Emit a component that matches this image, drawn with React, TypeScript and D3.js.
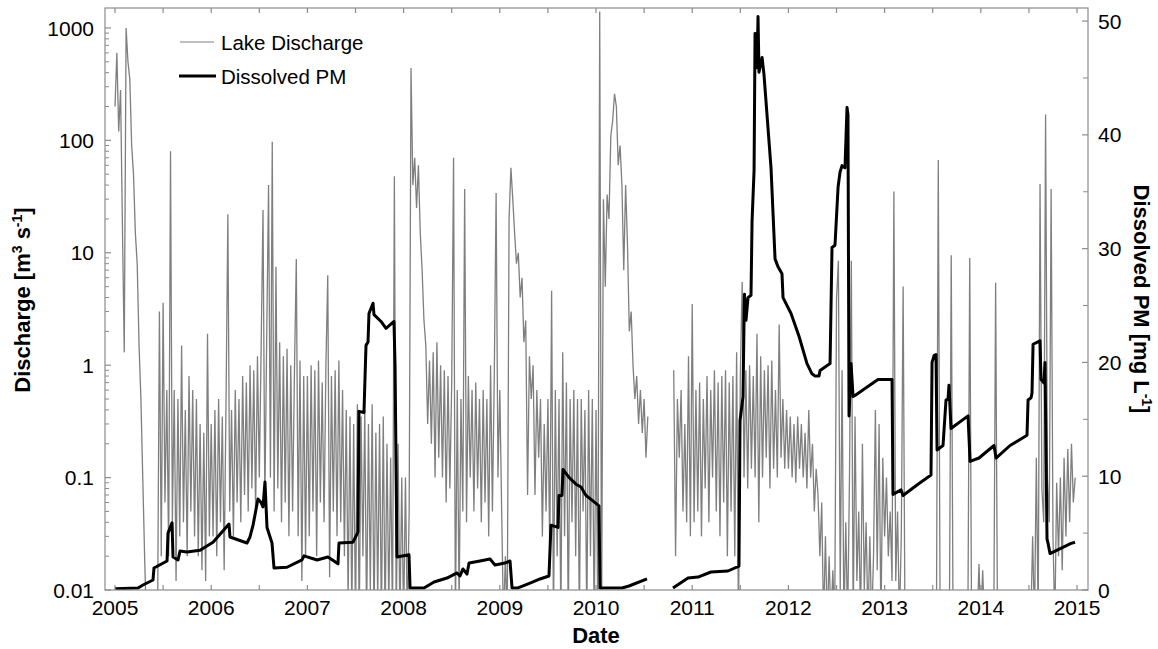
import React from 'react';
import * as d3 from 'd3';

// Lake discharge [m3 s-1], weekly samples per year (52 per year); null = no data
const q2005 = [200, 600, 120, 280, 18, 1.3, 1000, 500, 350, 90, 50, 15, 8, 1.5, 0.5, 0.1, 0.02, 0.005, 0.005, 0.005, 0.005, 0.005, 0.005, 0.005, 3.0, 0.02, 3.6, 0.06, 0.6, 0.02, 80, 0.04, 0.6, 0.012, 0.5, 0.03, 1.5, 0.04, 0.4, 0.02, 0.8, 0.05, 0.6, 0.03, 0.5, 0.02, 0.3, 0.015, 0.25, 0.012, 1.9, 0.03];
const q2006 = [0.3, 0.03, 0.4, 0.02, 0.5, 0.04, 0.35, 0.015, 0.45, 22, 0.05, 0.4, 0.03, 0.6, 0.06, 0.5, 0.04, 0.8, 0.07, 0.7, 0.05, 1.0, 0.08, 0.9, 0.05, 1.2, 0.1, 1.5, 24, 0.06, 1.8, 40, 0.1, 97, 0.05, 7.5, 0.08, 1.6, 0.04, 1.2, 0.06, 1.4, 0.03, 1.0, 0.05, 0.9, 8.8, 0.03, 1.1, 0.012, 0.8, 0.02];
const q2007 = [0.8, 0.03, 1.0, 0.05, 0.9, 0.02, 1.1, 0.06, 0.7, 0.04, 1.0, 6.3, 0.013, 0.8, 0.05, 0.9, 0.03, 1.1, 0.04, 0.6, 0.02, 0.4, 0.008, 0.35, 0.006, 0.3, 0.005, 0.45, 0.005, 0.35, 0.02, 0.4, 0.005, 0.3, 0.01, 0.45, 0.005, 0.25, 0.008, 0.3, 0.005, 0.35, 0.005, 0.2, 0.007, 0.15, 0.005, 48, 0.005, 0.2, 0.005, 0.1];
const q2008 = [0.005, 0.1, 0.005, 0.05, 440, 40, 70, 25, 60, 15, 7, 2.5, 1.5, 0.3, 1.1, 0.2, 1.3, 0.1, 1.6, 0.15, 1.0, 0.1, 0.9, 0.06, 0.8, 0.08, 0.7, 70, 0.005, 0.6, 0.007, 0.5, 0.05, 37, 0.04, 0.8, 0.1, 0.6, 0.05, 0.7, 0.08, 0.5, 0.04, 0.6, 0.06, 0.5, 0.03, 1.0, 0.05, 0.8, 34, 0.1];
const q2009 = [0.6, 0.05, 0.005, 0.02, 0.005, 20, 57, 30, 15, 8, 10, 4, 6, 1.6, 2.5, 0.07, 1.2, 0.5, 1.0, 0.07, 0.6, 0.15, 0.5, 0.03, 0.3, 0.05, 0.5, 0.02, 4.6, 0.005, 0.6, 0.02, 0.5, 0.005, 1.3, 0.03, 0.7, 0.005, 0.5, 0.04, 0.6, 0.02, 0.5, 0.005, 0.5, 0.05, 0.4, 0.005, 0.6, 0.02, 0.5, 0.005];
const q2010 = [0.4, 0.005, 1400, 0.005, 30, 5, 33, 20, 110, 150, 260, 200, 60, 90, 40, 7, 40, 12, 2, 3, 1.0, 0.5, 0.8, 0.3, 0.6, 0.25, 0.5, 0.15, 0.35, null, null, null, null, null, null, null, null, null, null, null, null, null, 0.9, 0.02, 0.5, 0.15, 0.6, 0.05, 0.3, 0.04, 1.2, 0.03];
const q2011 = [3.5, 0.04, 0.6, 0.05, 0.7, 0.03, 0.5, 0.08, 0.8, 0.04, 0.6, 0.1, 0.9, 0.05, 0.7, 0.03, 0.8, 0.06, 0.9, 0.02, 0.7, 0.05, 0.8, 0.02, 1.3, 0.005, 0.8, 5.5, 0.1, 0.9, 0.08, 1.0, 0.12, 0.8, 0.1, 1.9, 0.04, 1.2, 0.1, 0.9, 0.15, 1.0, 0.08, 1.1, 0.12, 0.6, 0.1, 2.3, 0.15, 0.5, 0.12, 0.4];
const q2012 = [0.12, 0.35, 0.1, 0.3, 0.09, 0.35, 0.12, 0.3, 0.1, 0.25, 0.08, 0.4, 0.1, 0.2, 0.05, 0.12, 0.07, 0.02, 0.06, 0.005, 0.03, 0.005, 0.02, 0.005, 0.015, 0.005, 3.9, 8.5, 0.01, 0.9, 0.005, 0.04, 0.005, 0.1, 8.5, 0.005, 0.35, 0.012, 0.05, 0.005, 0.2, 0.01, 0.04, 0.005, 0.03, 0.005, 0.02, 0.4, 0.015, 0.3, 0.005, 0.15];
const q2013 = [0.03, 0.1, 0.02, 0.05, 0.012, 35, 0.012, 0.05, 0.005, 0.03, 5, 0.005, 0.005, 0.005, 0.005, 0.005, 0.005, 0.005, 0.005, 0.005, 0.005, 0.005, 0.005, 0.005, 0.005, 0.005, 0.005, 0.005, 0.005, 67, 0.005, 0.005, 0.005, 0.005, 0.005, 0.005, 9.5, 0.005, 0.005, 0.005, 0.005, 0.005, 0.005, 0.005, 0.005, 0.005, 9, 0.005, 0.005, 0.005, 0.005, 0.017];
const q2014 = [0.005, 0.015, 0.005, 0.005, 0.005, 0.005, 0.005, 0.005, 5.4, 0.005, 0.005, 0.005, 0.005, 0.005, 0.005, 0.005, 0.005, 0.005, 0.005, 0.005, 0.005, 0.005, 0.005, 0.005, 0.005, 0.005, 0.005, 0.005, 0.03, 0.005, 0.15, 0.005, 41, 0.08, 0.04, 170, 0.1, 0.04, 37, 0.03, 0.005, 0.09, 0.02, 0.1, 0.015, 0.15, 0.03, 0.18, 0.04, 0.2, 0.06, 0.1];

const dischargeYears = [2005, 2006, 2007, 2008, 2009, 2010, 2011, 2012, 2013, 2014];
const dischargeSeries = [q2005, q2006, q2007, q2008, q2009, q2010, q2011, q2012, q2013, q2014];

// Dissolved PM [mg L-1]; null = gap
const pmYears = [2005.000, 2005.239, 2005.291, 2005.395, 2005.405, 2005.541, 2005.551, 2005.593, 2005.603, 2005.655, 2005.676, 2005.748, 2005.884, 2006.019, 2006.185, 2006.195, 2006.372, 2006.403, 2006.435, 2006.486, 2006.518, 2006.538, 2006.559, 2006.580, 2006.632, 2006.653, 2006.788, 2006.944, 2006.965, 2007.100, 2007.214, 2007.318, 2007.328, 2007.474, 2007.526, 2007.536, 2007.588, 2007.609, 2007.630, 2007.640, 2007.682, 2007.692, 2007.765, 2007.817, 2007.900, 2007.911, 2007.931, 2008.056, 2008.067, 2008.212, 2008.316, 2008.451, 2008.555, 2008.586, 2008.617, 2008.659, 2008.680, 2008.794, 2008.898, 2008.950, 2009.054, 2009.106, 2009.127, 2009.189, 2009.314, 2009.418, 2009.511, 2009.532, 2009.605, 2009.615, 2009.646, 2009.657, 2009.719, 2009.792, 2009.844, 2009.896, 2009.958, 2010.031, 2010.042, 2010.270, 2010.343, 2010.530, 2010.665, 2010.800, 2010.956, 2011.060, 2011.195, 2011.372, 2011.486, 2011.497, 2011.528, 2011.538, 2011.543, 2011.559, 2011.580, 2011.611, 2011.622, 2011.643, 2011.653, 2011.674, 2011.684, 2011.694, 2011.726, 2011.746, 2011.819, 2011.861, 2011.892, 2011.933, 2011.944, 2012.027, 2012.110, 2012.193, 2012.245, 2012.277, 2012.318, 2012.329, 2012.433, 2012.453, 2012.484, 2012.516, 2012.536, 2012.557, 2012.588, 2012.609, 2012.619, 2012.630, 2012.651, 2012.672, 2012.692, 2012.796, 2012.931, 2013.077, 2013.087, 2013.171, 2013.191, 2013.347, 2013.482, 2013.493, 2013.514, 2013.534, 2013.545, 2013.607, 2013.638, 2013.659, 2013.669, 2013.690, 2013.867, 2013.888, 2013.981, 2014.137, 2014.158, 2014.304, 2014.480, 2014.491, 2014.522, 2014.532, 2014.543, 2014.615, 2014.626, 2014.657, 2014.667, 2014.688, 2014.699, 2014.719, 2014.938, 2014.979];
const pmValues = [0.1, 0.18, 0.44, 0.88, 1.93, 2.55, 5.0, 5.9, 2.9, 2.64, 3.43, 3.34, 3.5, 4.2, 5.8, 4.66, 4.13, 4.66, 5.7, 8.0, 7.7, 7.3, 9.5, 5.5, 4.13, 1.93, 2.0, 2.64, 3.0, 2.64, 2.9, 2.3, 4.13, 4.2, 5.1, 15.7, 15.6, 21.5, 21.8, 24.3, 25.2, 24.2, 23.6, 23.0, 23.6, 19.7, 2.9, 3.1, 0.18, 0.18, 0.7, 1.05, 1.5, 1.23, 1.85, 1.4, 2.37, 2.55, 2.72, 2.2, 2.37, 2.55, 0.18, 0.18, 0.6, 0.97, 1.23, 5.7, 5.5, 8.3, 8.3, 10.6, 9.9, 9.3, 9.05, 8.3, 7.9, 7.4, 0.18, 0.18, 0.35, 0.97, null, 0.18, 1.05, 1.14, 1.58, 1.67, 2.1, 14.9, 17.0, 23.3, 26.0, 23.7, 25.7, 25.9, 32.4, 36.9, 48.9, 45.9, 50.4, 45.5, 46.8, 45.3, 37.1, 29.1, 28.4, 27.8, 25.7, 24.3, 22.3, 19.9, 19.0, 18.8, 18.8, 19.3, 19.9, 30.1, 30.3, 35.4, 36.7, 37.3, 37.1, 42.4, 41.8, 15.3, 19.9, 17.0, 17.1, 17.7, 18.5, 18.5, 8.4, 8.8, 8.3, 9.3, 10.1, 20.0, 20.6, 20.7, 12.3, 12.7, 16.7, 16.8, 18.0, 14.2, 15.3, 11.3, 11.6, 12.7, 11.6, 12.7, 13.6, 16.7, 16.9, 17.3, 21.6, 21.9, 18.5, 18.2, 20.0, 4.5, 4.1, 3.2, 4.1, 4.2];

const yearTicks = [2005, 2006, 2007, 2008, 2009, 2010, 2011, 2012, 2013, 2014, 2015];
const leftTicks = [0.01, 0.1, 1, 10, 100, 1000];
const leftTickLabels = ['0.01', '0.1', '1', '10', '100', '1000'];
const rightTicks = [0, 10, 20, 30, 40, 50];

const FONT = "'Liberation Sans', Arial, Helvetica, sans-serif";

export default function App() {
  const L = 105, R = 1088, T = 8, B = 590;
  const x = d3.scaleLinear().domain([2004.896, 2015.114]).range([L, R]);
  const yL = d3.scaleLog().domain([0.01, 1505]).range([B, T]);
  const yR = d3.scaleLinear().domain([0, 51.15]).range([B, T]);

  const qPts: [number, number | null][] = [];
  dischargeYears.forEach((yr, k) => {
    dischargeSeries[k].forEach((v, i) => qPts.push([yr + i / 52, v]));
  });
  const qLine = d3.line<[number, number | null]>()
    .defined(d => d[1] != null)
    .x(d => x(d[0]))
    .y(d => yL(d[1] as number));
  const qPath = qLine(qPts) || '';

  const pmPts: [number, number | null][] = pmYears.map((t, i) => [t, pmValues[i]]);
  const pmLine = d3.line<[number, number | null]>()
    .defined(d => d[1] != null)
    .x(d => x(d[0]))
    .y(d => yR(d[1] as number));
  const pmPath = pmLine(pmPts) || '';

  const halfYears = d3.range(2005, 2015.01, 0.5);
  const minorLog: number[] = [];
  [0.01, 0.1, 1, 10, 100].forEach(d => { for (let k = 2; k <= 9; k++) minorLog.push(d * k); });
  const rightMinor = d3.range(5, 51, 10);

  const axisColor = '#8c8c8c';

  return (
    <svg width={1158} height={649} style={{ position: 'absolute', left: 0, top: 0, background: '#fff' }} fontFamily={FONT}>
      <rect x={0} y={0} width={1158} height={649} fill="#fff" />
      <defs>
        <clipPath id="plotClip">
          <rect x={L} y={T} width={R - L} height={B - T} />
        </clipPath>
      </defs>
      <g clipPath="url(#plotClip)">
        <path d={qPath} fill="none" stroke="#7f7f7f" strokeWidth={1.3} />
        <path d={pmPath} fill="none" stroke="#000" strokeWidth={3} strokeLinejoin="round" />
      </g>
      {/* frame */}
      <rect x={L} y={T} width={R - L} height={B - T} fill="none" stroke={axisColor} strokeWidth={1.2} />
      {/* x ticks top & bottom */}
      {halfYears.map(t => (
        <g key={'xt' + t}>
          <line x1={x(t)} x2={x(t)} y1={T} y2={T + 5} stroke={axisColor} strokeWidth={1.2} />
          <line x1={x(t)} x2={x(t)} y1={B} y2={B - 5} stroke={axisColor} strokeWidth={1.2} />
        </g>
      ))}
      {yearTicks.map(t => (
        <text key={'xl' + t} x={x(t)} y={615} fontSize={21} textAnchor="middle" fill="#000">{t}</text>
      ))}
      {/* left ticks */}
      {leftTicks.map((v, i) => (
        <g key={'lt' + v}>
          <line x1={L} x2={L + 6} y1={yL(v)} y2={yL(v)} stroke={axisColor} strokeWidth={1.2} />
          <text x={94} y={yL(v)} dy="0.36em" fontSize={21} textAnchor="end" fill="#000">{leftTickLabels[i]}</text>
        </g>
      ))}
      {minorLog.map(v => (
        <line key={'lm' + v} x1={L} x2={L + 4} y1={yL(v)} y2={yL(v)} stroke={axisColor} strokeWidth={1} />
      ))}
      {/* right ticks */}
      {rightTicks.map(v => (
        <g key={'rt' + v}>
          <line x1={R} x2={R - 6} y1={yR(v)} y2={yR(v)} stroke={axisColor} strokeWidth={1.2} />
          <text x={1098} y={yR(v)} dy="0.36em" fontSize={21} textAnchor="start" fill="#000">{v}</text>
        </g>
      ))}
      {rightMinor.map(v => (
        <line key={'rm' + v} x1={R} x2={R - 5} y1={yR(v)} y2={yR(v)} stroke={axisColor} strokeWidth={1} />
      ))}
      {/* axis titles */}
      <text x={596} y={643} fontSize={22} fontWeight="bold" textAnchor="middle" fill="#000">Date</text>
      <text transform="translate(30,300) rotate(-90)" fontSize={22} fontWeight="bold" textAnchor="middle" fill="#000">
        Discharge [m<tspan dy={-8} fontSize={14}>3</tspan><tspan dy={8}> s</tspan><tspan dy={-8} fontSize={14}>-1</tspan><tspan dy={8}>]</tspan>
      </text>
      <text transform="translate(1134,299) rotate(90)" fontSize={22} fontWeight="bold" textAnchor="middle" fill="#000">
        Dissolved PM [mg L<tspan dy={-8} fontSize={14}>-1</tspan><tspan dy={8}>]</tspan>
      </text>
      {/* legend */}
      <line x1={180} x2={214} y1={42} y2={42} stroke="#808080" strokeWidth={1.2} />
      <text x={221} y={50} fontSize={20.5} fill="#000">Lake Discharge</text>
      <line x1={179} x2={216} y1={76} y2={76} stroke="#000" strokeWidth={3} />
      <text x={221} y={84} fontSize={20.5} fill="#000">Dissolved PM</text>
    </svg>
  );
}
